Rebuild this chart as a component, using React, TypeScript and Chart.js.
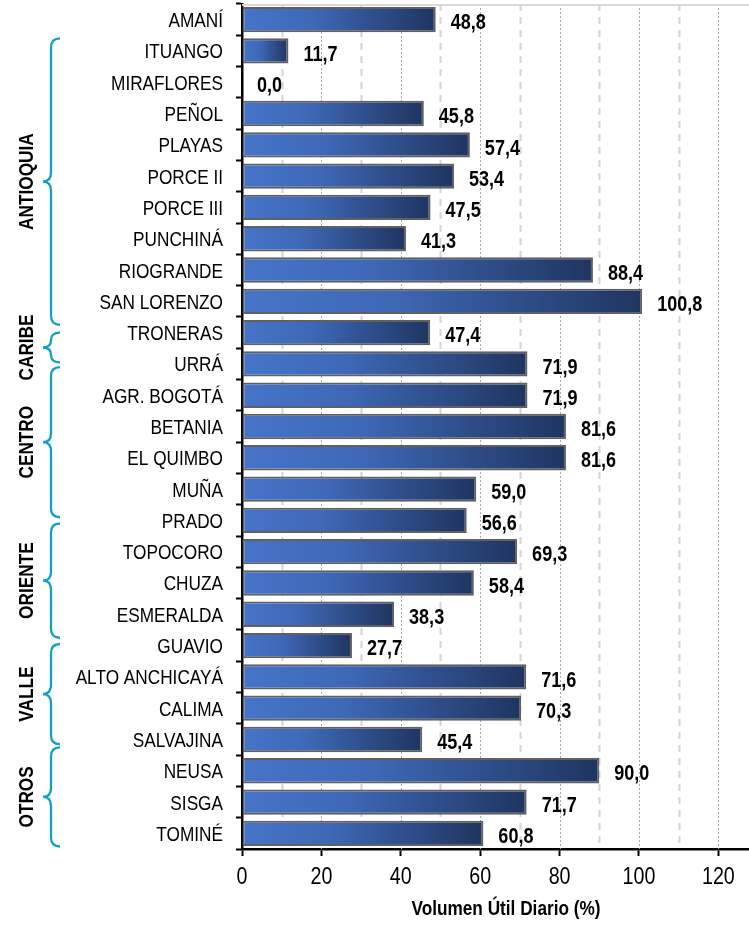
import React, { useEffect, useRef } from "react";
import { Chart, registerables } from "chart.js";

Chart.register(...registerables);

const categories = [
  "AMANÍ", "ITUANGO", "MIRAFLORES", "PEÑOL", "PLAYAS", "PORCE II", "PORCE III",
  "PUNCHINÁ", "RIOGRANDE", "SAN LORENZO", "TRONERAS", "URRÁ", "AGR. BOGOTÁ",
  "BETANIA", "EL QUIMBO", "MUÑA", "PRADO", "TOPOCORO", "CHUZA", "ESMERALDA",
  "GUAVIO", "ALTO ANCHICAYÁ", "CALIMA", "SALVAJINA", "NEUSA", "SISGA", "TOMINÉ",
];

const values = [
  48.8, 11.7, 0.0, 45.8, 57.4, 53.4, 47.5, 41.3, 88.4, 100.8, 47.4, 71.9, 71.9,
  81.6, 81.6, 59.0, 56.6, 69.3, 58.4, 38.3, 27.7, 71.6, 70.3, 45.4, 90.0, 71.7, 60.8,
];

// group brackets, extents in category-index units
const groupNames = ["ANTIOQUIA", "CARIBE", "CENTRO", "ORIENTE", "VALLE", "OTROS"];
const groupFrom = [0.6, 10.0, 11.1, 16.1, 19.95, 23.25];
const groupTo = [9.75, 10.95, 15.9, 19.75, 23.15, 26.42];

const axisTitle = "Volumen Útil Diario (%)";
const xMax = 133;
const xStep = 20;

const FONT = "'Liberation Sans', Arial, sans-serif";
const SQUEEZE = 0.82;

const fmt = (v: number) => v.toFixed(1).replace(".", ",");

function drawNarrow(
  ctx: CanvasRenderingContext2D,
  text: string,
  x: number,
  y: number,
  align: CanvasTextAlign,
  font: string,
  rotate = 0
) {
  ctx.save();
  ctx.translate(x, y);
  if (rotate) ctx.rotate(rotate);
  ctx.scale(SQUEEZE, 1);
  ctx.font = font;
  ctx.fillStyle = "#000";
  ctx.textAlign = align;
  ctx.textBaseline = "alphabetic";
  ctx.fillText(text, 0, 0);
  ctx.restore();
}

const gridPlugin = {
  id: "customGrid",
  beforeDatasetsDraw(chart: any) {
    const { ctx, chartArea } = chart;
    const xs = chart.scales.x;
    ctx.save();
    for (let v = 10; v <= xMax; v += 10) {
      const x = Math.round(xs.getPixelForValue(v)) + 0.5;
      ctx.beginPath();
      if (v % 20 === 0) {
        ctx.strokeStyle = "#a8a8a8";
        ctx.lineWidth = 1;
        ctx.setLineDash([2, 2]);
      } else {
        ctx.strokeStyle = "#d4d4d4";
        ctx.lineWidth = 2;
        ctx.setLineDash([7, 6]);
      }
      ctx.moveTo(x, chartArea.top);
      ctx.lineTo(x, chartArea.bottom);
      ctx.stroke();
    }
    ctx.setLineDash([]);
    ctx.strokeStyle = "#d9d9d9";
    ctx.lineWidth = 2;
    ctx.beginPath();
    ctx.moveTo(chartArea.left, chartArea.top + 1);
    ctx.lineTo(chartArea.right, chartArea.top + 1);
    ctx.stroke();
    ctx.restore();
  },
};

const labelPlugin = {
  id: "valueLabels",
  afterDatasetsDraw(chart: any) {
    const { ctx } = chart;
    const meta = chart.getDatasetMeta(0);
    meta.data.forEach((bar: any, i: number) => {
      drawNarrow(ctx, fmt(values[i]), bar.x + 15, bar.y + 1.8 + 0.358 * 22, "left", `bold 22px ${FONT}`);
    });
  },
};

const axisTextPlugin = {
  id: "axisText",
  afterDraw(chart: any) {
    const { ctx, chartArea } = chart;
    const ys = chart.scales.y;
    const xs = chart.scales.x;
    categories.forEach((c, i) => {
      const y = ys.getPixelForValue(i);
      drawNarrow(ctx, c, chartArea.left - 19, y + 0.358 * 21, "right", `21px ${FONT}`);
    });
    xs.ticks.forEach((t: any) => {
      const x = xs.getPixelForValue(t.value);
      drawNarrow(ctx, String(t.value), x, chartArea.bottom + 35, "center", `24px ${FONT}`);
    });
    drawNarrow(
      ctx,
      axisTitle,
      (chartArea.left + chartArea.right) / 2,
      chartArea.bottom + 66,
      "center",
      `bold 21px ${FONT}`
    );
  },
};

const bracePlugin = {
  id: "braces",
  afterDraw(chart: any) {
    const { ctx } = chart;
    const ys = chart.scales.y;
    const xv = 51, xt = 43, xe = 60;
    ctx.save();
    groupNames.forEach((name, i) => {
      const top = ys.getPixelForValue(groupFrom[i]);
      const bottom = ys.getPixelForValue(groupTo[i]);
      const mid = (top + bottom) / 2;
      const r = Math.min(9, (bottom - top) / 4);
      ctx.strokeStyle = "#14a0c6";
      ctx.lineWidth = 2.3;
      ctx.beginPath();
      ctx.moveTo(xe, top);
      ctx.quadraticCurveTo(xv, top, xv, top + r);
      ctx.lineTo(xv, mid - r);
      ctx.quadraticCurveTo(xv, mid, xt, mid);
      ctx.quadraticCurveTo(xv, mid, xv, mid + r);
      ctx.lineTo(xv, bottom - r);
      ctx.quadraticCurveTo(xv, bottom, xe, bottom);
      ctx.stroke();
      drawNarrow(ctx, name, 25 + 0.358 * 21, mid, "center", `bold 21px ${FONT}`, -Math.PI / 2);
    });
    ctx.restore();
  },
};

export default function App() {
  const ref = useRef<HTMLCanvasElement>(null);

  useEffect(() => {
    document.body.style.margin = "0";
    document.body.style.overflow = "hidden";
    if (!ref.current) return;
    const chart = new Chart(ref.current, {
      type: "bar",
      data: {
        labels: categories,
        datasets: [
          {
            data: values,
            backgroundColor: (c: any) => {
              const ch = c.chart;
              const xs = ch.scales && ch.scales.x;
              if (!xs || c.type !== "data") return "#4472c4";
              const x0 = xs.getPixelForValue(0);
              const x1 = xs.getPixelForValue(c.raw);
              if (!isFinite(x0) || !isFinite(x1) || x1 - x0 < 1) return "#4472c4";
              const g = ch.ctx.createLinearGradient(x0, 0, x1, 0);
              g.addColorStop(0, "#4674c8");
              g.addColorStop(0.35, "#3f69b8");
              g.addColorStop(1, "#1f3560");
              return g;
            },
            borderColor: "#606060",
            borderWidth: 2,
            borderSkipped: false,
            barPercentage: 0.81,
            categoryPercentage: 1,
          },
        ],
      },
      options: {
        indexAxis: "y",
        animation: false,
        responsive: true,
        maintainAspectRatio: false,
        layout: { padding: { top: 4, left: 0, right: 0, bottom: 0 } },
        plugins: {
          legend: { display: false },
          tooltip: { enabled: false },
        },
        scales: {
          x: {
            type: "linear",
            min: 0,
            max: xMax,
            afterBuildTicks: (s: any) => {
              s.ticks = s.ticks.filter((t: any) => t.value % xStep === 0);
            },
            afterFit: (s: any) => {
              s.height = 78;
            },
            ticks: {
              display: false,
              stepSize: xStep,
              includeBounds: false,
              autoSkip: false,
            },
            grid: {
              display: true,
              drawOnChartArea: false,
              drawTicks: true,
              tickLength: 7,
              tickColor: "#000",
              tickWidth: 2,
            },
            border: { display: true, color: "#000", width: 2.5 },
          },
          y: {
            type: "category",
            afterFit: (s: any) => {
              s.width = 242;
            },
            ticks: {
              display: false,
              autoSkip: false,
            },
            grid: {
              display: true,
              offset: true,
              drawOnChartArea: false,
              drawTicks: true,
              tickLength: 6,
              tickColor: "#000",
              tickWidth: 2,
            },
            border: { display: true, color: "#000", width: 2.5 },
          },
        },
      },
      plugins: [gridPlugin, labelPlugin, axisTextPlugin, bracePlugin],
    } as any);
    return () => chart.destroy();
  }, []);

  return (
    <div style={{ width: 749, height: 927, overflow: "hidden", position: "relative" }}>
      <div style={{ width: 770, height: 927, position: "absolute", left: 0, top: 0 }}>
        <canvas ref={ref} />
      </div>
    </div>
  );
}
